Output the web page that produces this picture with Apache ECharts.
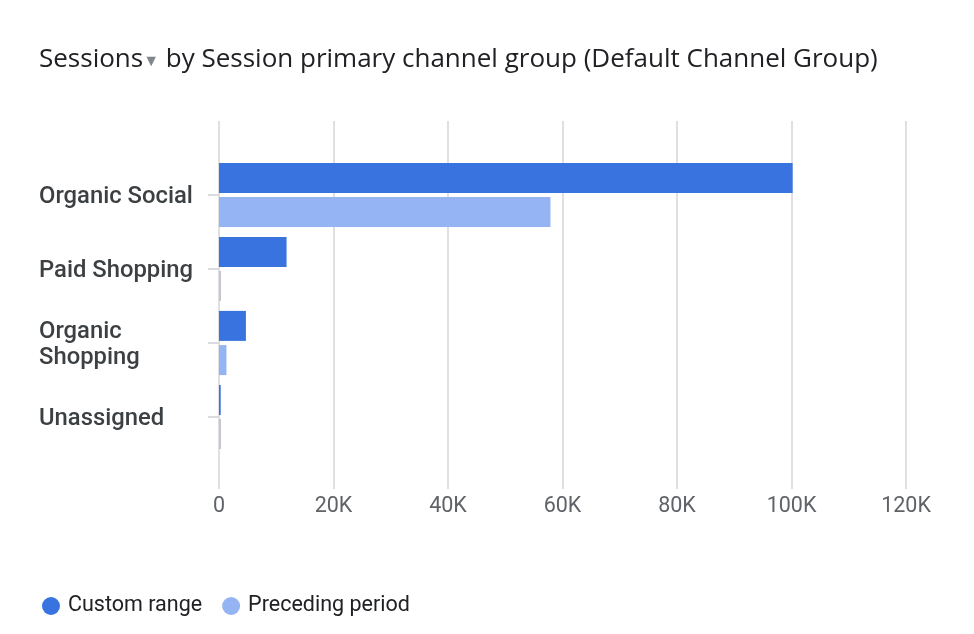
<!DOCTYPE html>
<html>
<head>
<meta charset="utf-8">
<script src="https://cdn.jsdelivr.net/npm/echarts@6/dist/echarts.min.js"></script>
<style>html,body{margin:0;padding:0;background:#fff}#c{width:974px;height:634px}</style>
</head>
<body>
<div id="c"></div>
<script>
const categories = ['Organic Social', 'Paid Shopping', 'Organic\nShopping', 'Unassigned'];
const customRange = [100200, 11800, 4700, 300];
const precedingPeriod = [57900, 0, 1300, 0];
const xTicks = [0, 20000, 40000, 60000, 80000, 100000, 120000];
const seriesNames = ['Custom range', 'Preceding period'];

const xMin = xTicks[0], xMax = xTicks[xTicks.length - 1], xStep = xTicks[1] - xTicks[0];
const FONT = 'Roboto, "Noto Sans", sans-serif';
const TFONT = '"Open Sans", Roboto, sans-serif';
const chart = echarts.init(document.getElementById('c'));
chart.setOption({
  animation: false,
  title: {
    left: 34, top: 42,
    text: '{a|Sessions}{t|▼}{a| by Session primary channel group (Default Channel Group)}',
    textStyle: {
      fontWeight: 'normal',
      rich: {
        a: { fontFamily: TFONT, fontSize: 26, fontWeight: 'normal', color: '#202124' },
        t: { fontFamily: FONT, fontSize: 16, fontWeight: 'normal', color: '#80868b', padding: [3, 0, 0, 0] }
      }
    }
  },
  legend: {
    left: 37, top: 590, itemGap: 20,
    icon: 'circle', itemWidth: 18, itemHeight: 18,
    textStyle: { fontFamily: FONT, fontSize: 21.5, color: '#202124', padding: [0, 0, 0, 3] },
    data: seriesNames
  },
  grid: [
    { left: 219, right: 68, top: 121, bottom: 145 },
    { left: 219, right: 68, top: 158, height: 296 }
  ],
  xAxis: [
    {
      gridIndex: 0, type: 'value', min: xMin, max: xMax, interval: xStep,
      axisLine: { show: false }, axisTick: { show: false },
      splitLine: { lineStyle: { color: '#e0e0e3', width: 2 } },
      axisLabel: {
        margin: 7, fontFamily: FONT, fontSize: 21.5, color: '#5f6368',
        formatter: v => v === 0 ? '0' : (v / 1000) + 'K'
      }
    },
    {
      gridIndex: 1, type: 'value', min: xMin, max: xMax, interval: xStep,
      show: false, splitLine: { show: false }
    }
  ],
  yAxis: [
    { gridIndex: 0, type: 'category', data: categories, show: false },
    {
      gridIndex: 1, type: 'category', data: categories, inverse: true,
      axisLine: { show: false },
      axisTick: { show: true, alignWithLabel: true, length: 11, lineStyle: { color: '#dadce0', width: 2 } },
      axisLabel: {
        align: 'left', margin: 180,
        formatter: v => v.split('\n').map(s => '{l|' + s + '}').join('\n'),
        rich: {
          l: {
            fontFamily: FONT, fontSize: 23.8, fontWeight: 500, color: '#3c4043',
            lineHeight: 26, padding: [4, 0, 0, 0]
          }
        }
      }
    }
  ],
  series: [
    {
      name: seriesNames[0], type: 'bar', xAxisIndex: 1, yAxisIndex: 1,
      data: customRange, barWidth: 30, barGap: '14%',
      itemStyle: { color: '#3873e0' }
    },
    {
      name: seriesNames[1], type: 'bar', xAxisIndex: 1, yAxisIndex: 1,
      data: precedingPeriod.map(v => v === 0 ? { value: v, itemStyle: { color: '#c4c7cc' } } : v),
      barWidth: 30, barMinHeight: 2,
      itemStyle: { color: '#95b4f3' }
    }
  ]
});
</script>
</body>
</html>
